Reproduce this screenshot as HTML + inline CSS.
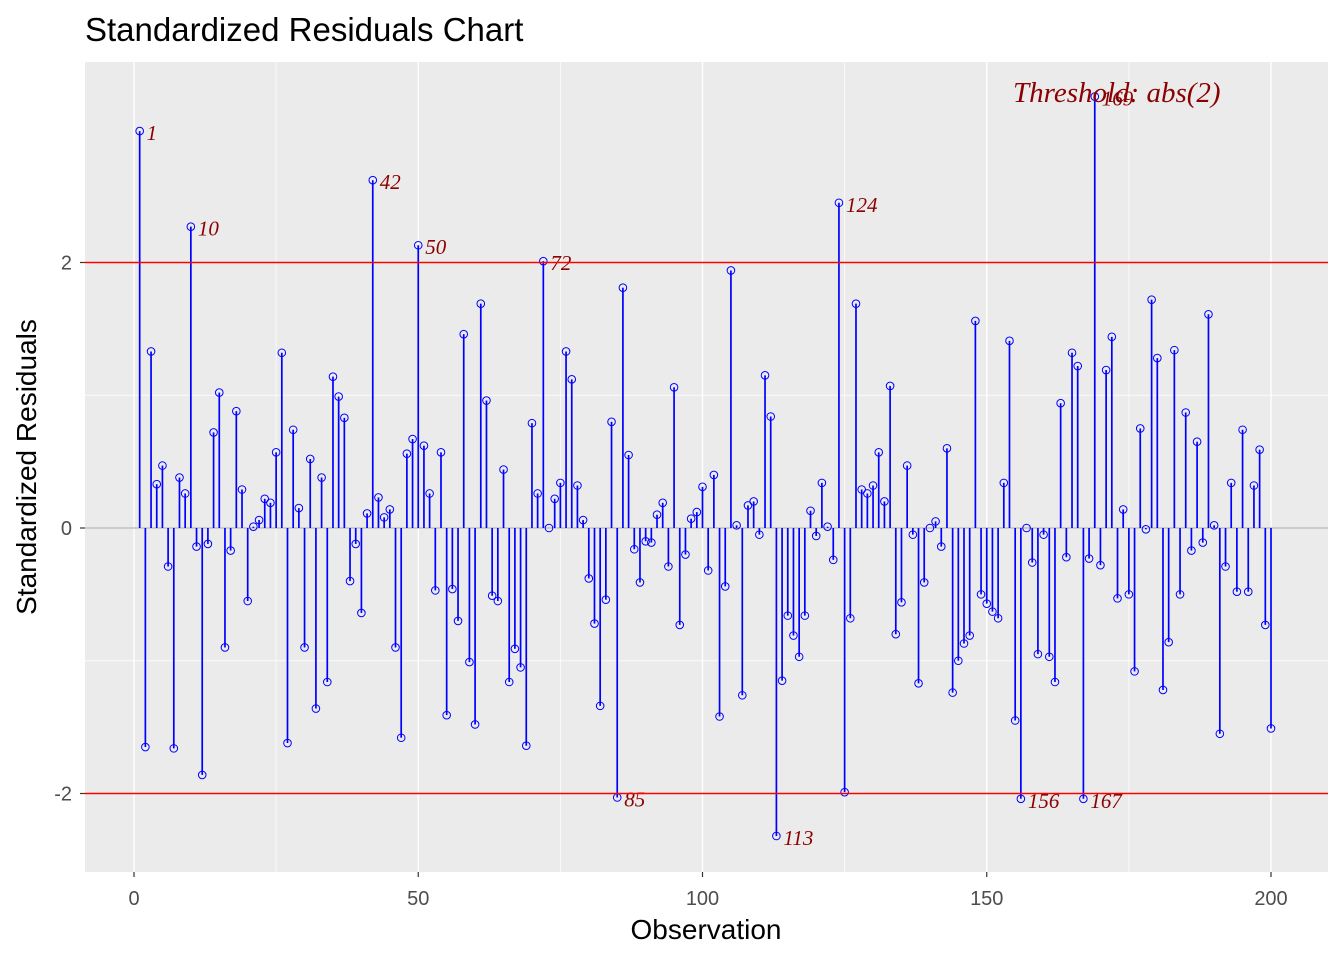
<!DOCTYPE html>
<html><head><meta charset="utf-8"><style>
body{margin:0;background:#fff}
svg text{font-family:"Liberation Sans",sans-serif}
.lab{font-family:"Liberation Serif",serif;font-style:italic;fill:#8b0000;font-size:21px}
</style></head><body>
<svg id="chart" width="1344" height="960" xmlns="http://www.w3.org/2000/svg">
<text x="85" y="41" font-size="33" fill="#000">Standardized Residuals Chart</text>
<rect x="85" y="62" width="1243" height="810" fill="#EBEBEB"/>
<g id="grid"></g><g id="marks"></g><g id="labels"></g><g id="axes"></g>
<text x="1013" y="102" class="lab" style="font-size:29px">Threshold: abs(2)</text>
<text x="706" y="939" font-size="28" text-anchor="middle">Observation</text>
<text transform="translate(36,467) rotate(-90)" font-size="28" text-anchor="middle">Standardized Residuals</text>
</svg>
<script>
const residuals=[2.99,-1.65,1.33,0.33,0.47,-0.29,-1.66,0.38,0.26,2.27,-0.14,-1.86,-0.12,0.72,1.02,-0.90,-0.17,0.88,0.29,-0.55,
0.01,0.06,0.22,0.19,0.57,1.32,-1.62,0.74,0.15,-0.90,0.52,-1.36,0.38,-1.16,1.14,0.99,0.83,-0.40,-0.12,-0.64,
0.11,2.62,0.23,0.08,0.14,-0.90,-1.58,0.56,0.67,2.13,0.62,0.26,-0.47,0.57,-1.41,-0.46,-0.70,1.46,-1.01,-1.48,
1.69,0.96,-0.51,-0.55,0.44,-1.16,-0.91,-1.05,-1.64,0.79,0.26,2.01,0.0,0.22,0.34,1.33,1.12,0.32,0.06,-0.38,
-0.72,-1.34,-0.54,0.80,-2.03,1.81,0.55,-0.16,-0.41,-0.10,-0.11,0.10,0.19,-0.29,1.06,-0.73,-0.20,0.07,0.12,0.31,
-0.32,0.40,-1.42,-0.44,1.94,0.02,-1.26,0.17,0.20,-0.05,1.15,0.84,-2.32,-1.15,-0.66,-0.81,-0.97,-0.66,0.13,-0.06,
0.34,0.01,-0.24,2.45,-1.99,-0.68,1.69,0.29,0.26,0.32,0.57,0.20,1.07,-0.80,-0.56,0.47,-0.05,-1.17,-0.41,0.0,
0.05,-0.14,0.60,-1.24,-1.00,-0.87,-0.81,1.56,-0.50,-0.57,-0.63,-0.68,0.34,1.41,-1.45,-2.04,0.0,-0.26,-0.95,-0.05,
-0.97,-1.16,0.94,-0.22,1.32,1.22,-2.04,-0.23,3.25,-0.28,1.19,1.44,-0.53,0.14,-0.50,-1.08,0.75,-0.01,1.72,1.28,
-1.22,-0.86,1.34,-0.50,0.87,-0.17,0.65,-0.11,1.61,0.02,-1.55,-0.29,0.34,-0.48,0.74,-0.48,0.32,0.59,-0.73,-1.51];
const xTicks=[0,50,100,150,200];
const yTicks=[-2,0,2];
const threshold=2;
const NS="http://www.w3.org/2000/svg";
const X=v=>134+(1271-134)*v/200;
const Y=v=>528-132.75*v;
function mk(parent,tag,attrs){const e=document.createElementNS(NS,tag);for(const k in attrs)e.setAttribute(k,attrs[k]);document.getElementById(parent).appendChild(e);return e;}
for(let i=0;i<xTicks.length;i++){
  const g=mk('grid','line',{x1:X(xTicks[i]),x2:X(xTicks[i]),y1:62,y2:872,stroke:'#fff','stroke-width':1.4});
  
  
  if(i<xTicks.length-1){const m=(xTicks[i]+xTicks[i+1])/2;
    const gm=mk('grid','line',{x1:X(m),x2:X(m),y1:62,y2:872,stroke:'#fff','stroke-width':0.7});
    
    }
  const t=mk('axes','text',{x:X(xTicks[i]),y:905,'font-size':20,fill:'#4d4d4d','text-anchor':'middle'});
  t.textContent=xTicks[i];
  
  
  const tk=mk('axes','line',{x1:X(xTicks[i]),x2:X(xTicks[i]),y1:872,y2:877,stroke:'#333','stroke-width':1.2});
  
  
}
[-1,1].forEach(v=>{const gm=mk('grid','line',{x1:85,x2:1328,y1:Y(v),y2:Y(v),stroke:'#fff','stroke-width':0.7});
  
  });
yTicks.forEach(v=>{
  const g=mk('grid','line',{x1:85,x2:1328,y1:Y(v),y2:Y(v),stroke:'#fff','stroke-width':1.4});
  
  
  const t=mk('axes','text',{x:72,y:Y(v)+7,'font-size':20,fill:'#4d4d4d','text-anchor':'end'});
  t.textContent=v;
  
  
  const tk=mk('axes','line',{x1:80,x2:85,y1:Y(v),y2:Y(v),stroke:'#333','stroke-width':1.2});
  
  
});
const z=mk('grid','line',{x1:85,x2:1328,y1:Y(0),y2:Y(0),stroke:'#bebebe','stroke-width':1.5});


residuals.forEach((r,i)=>{
  const o=i+1;
  const s=mk('marks','line',{x1:X(o),x2:X(o),y1:Y(0),y2:Y(r),stroke:'#0000ff','stroke-width':1.7});
  
  
  const c=mk('marks','circle',{cx:X(o),cy:Y(r),r:3.8,fill:'none',stroke:'#0000ff','stroke-width':1});
  
  
  if(Math.abs(r)>threshold){
    const t=mk('labels','text',{x:X(o)+7,y:Y(r)+9,class:'lab'});
    t.textContent=o;
    
    
  }
});
[threshold,-threshold].forEach(v=>{
  const h=mk('labels','line',{x1:85,x2:1328,y1:Y(v),y2:Y(v),stroke:'#ff0000','stroke-width':1.6});
  
  
});
</script>
</body></html>
